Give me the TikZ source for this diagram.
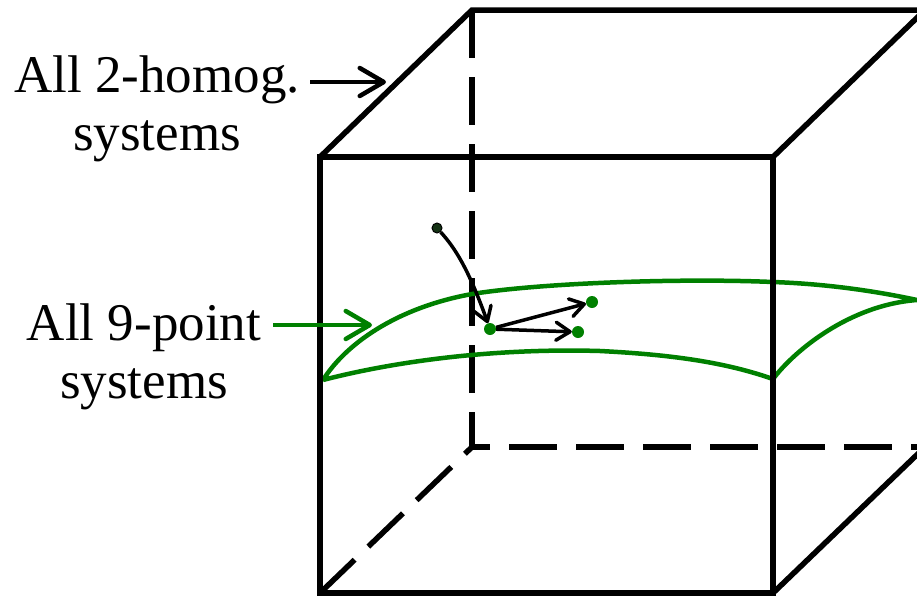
\documentclass[tikz,border=0pt]{standalone}
\usepackage{fontspec}
\setmainfont{Liberation Serif}
\usetikzlibrary{arrows.meta}
\definecolor{pgreen}{RGB}{0,128,0}
\definecolor{darkdot}{RGB}{20,50,20}
\begin{document}
\begin{tikzpicture}[x=1pt,y=-1pt,
  edge/.style={line width=5.5pt},
  hidden/.style={line width=5.5pt, dash pattern=on 48pt off 19pt},
  lbl/.style={font=\fontsize{53}{58}\selectfont, align=center, inner sep=0pt, anchor=base},
  labelarrow/.style={line width=4.5pt, -{Straight Barb[length=24pt,width=28pt,round]}},
  surf/.style={pgreen, line width=4.5pt, line join=round},
  gdot/.style={circle, fill=pgreen, inner sep=0pt, minimum size=12pt},
  sdot/.style={circle, fill=darkdot, draw=black, line width=1pt, inner sep=0pt, minimum size=10pt},
  stepar/.style={line width=3.5pt, -{Straight Barb[length=14pt,width=18pt,round]}}
]
\useasboundingbox (0,0) rectangle (917,597);
\coordinate (F1) at (320,157);
\coordinate (F2) at (773,157);
\coordinate (F3) at (773,593);
\coordinate (F4) at (320,593);
\coordinate (B1) at (472,10);
\coordinate (B2) at (925,10);
\coordinate (B3) at (925,447);
\coordinate (B4) at (472,447);
\begin{scope}
\clip (0,0) rectangle (917,597);
% hidden edges
\draw[hidden] (B1) -- (B4);
\draw[hidden, dash phase=30pt] (B4) -- (B3);
\draw[hidden] (F4) -- (B4);
% surface
\draw[surf] (323,380) .. controls (345,345) and (395,308) .. (472,294)
  .. controls (540,283) and (680,278) .. (773,282)
  .. controls (830,284) and (880,292) .. (917,300)
  .. controls (850,305) and (795,350) .. (773,379)
  .. controls (730,364) and (680,355) .. (600,351)
  .. controls (500,348) and (400,360) .. (323,380);
% solid edges
\draw[edge] (F1) rectangle (F3);
\draw[edge] (F1) -- (B1) -- (B2) -- (F2);
\draw[edge] (F3) -- (B3) -- (B2);
\end{scope}
% points and steps
\node[sdot] (s) at (437,228) {};
\node[gdot] (p0) at (490,329) {};
\node[gdot] (p1) at (592,302) {};
\node[gdot] (p2) at (578,332) {};
\draw[stepar] (s) .. controls (455,248) and (468,268) .. (p0);
\draw[stepar] (p0) -- (p1);
\draw[stepar] (p0) -- (p2);
% labels (base anchor = last line)
\node[lbl] (l1) at (157,150) {All 2-homog.\\systems};
\node[lbl] (l2) at (144,398) {All 9-point\\systems};
\coordinate (a1s) at (310,82);
\coordinate (a1e) at (386,82);
\coordinate (a2s) at (273,325);
\coordinate (a2e) at (372,325);
\draw[labelarrow] (a1s) -- (a1e);
\draw[labelarrow, pgreen] (a2s) -- (a2e);
\end{tikzpicture}
\end{document}
